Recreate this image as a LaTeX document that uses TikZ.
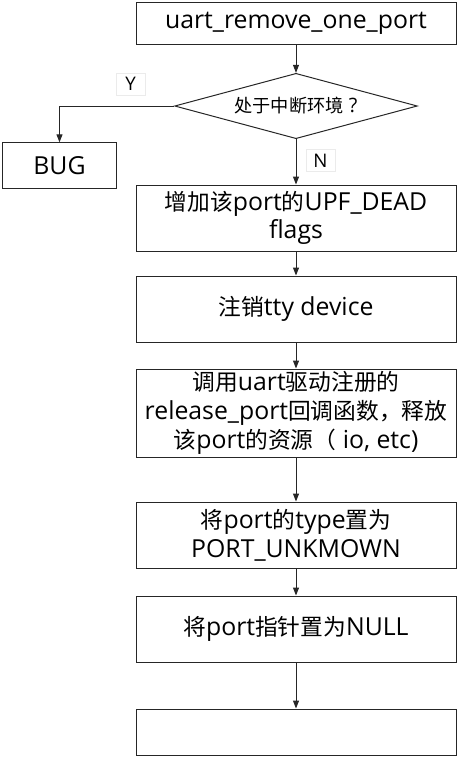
\documentclass[tikz,border=0pt]{standalone}
\usepackage{fontspec}
\setmainfont{Open Sans}[Scale=1.2]
\newfontfamily\cjk{Noto Sans CJK SC}[Scale=1.1]
\newcommand{\zh}[1]{{\cjk #1}}
\usetikzlibrary{shapes.geometric}
\usetikzlibrary{arrows.meta}

\begin{document}
\begin{tikzpicture}[x=0.75pt,y=-0.75pt,
  stepbox/.style={rectangle,draw=black!85,line width=0.75pt,minimum width=240pt,inner sep=0pt,align=center,font=\fontsize{15.5}{21.5}\selectfont},
  flow/.style={draw=black!85,line width=0.75pt,-{Triangle[length=6pt,width=4.5pt]}},
  tag/.style={draw=black!8,inner sep=0pt,minimum width=22pt,minimum height=16.5pt,font=\fontsize{11.7}{16}\selectfont}]
\useasboundingbox (0,0) rectangle (459,758);

\node[stepbox,minimum height=31.5pt] (start) at (296,23) {uart\_remove\_one\_port};
\node[diamond,aspect=3.74,draw=black!85,line width=0.75pt,inner sep=0pt,minimum width=182pt,minimum height=49pt,font=\fontsize{12.4}{16}\selectfont] (irq) at (296,106) {\zh{处于中断环境}\hspace{4pt}?};
\node[rectangle,draw=black!85,line width=0.75pt,minimum width=86pt,minimum height=34pt,font=\fontsize{15.5}{20}\selectfont] (bug) at (59.5,165.5) {BUG};
\node[stepbox,minimum height=49.5pt] (dead) at (296,218) {\zh{增加该}port\zh{的}UPF\_DEAD\\flags};
\node[stepbox,minimum height=49.5pt] (tty) at (296,309) {\zh{注销}tty device};
\node[stepbox,minimum height=66pt] (release) at (296,413) {\zh{调用}uart\zh{驱动注册的}\\release\_port\zh{回调函数，释放}\\\zh{该}port\zh{的资源（} io, etc)};
\node[stepbox,minimum height=49.5pt] (type) at (296,535) {\zh{将}port\zh{的}type\zh{置为}\\PORT\_UNKMOWN};
\node[stepbox,minimum height=49.5pt] (null) at (296,629) {\zh{将}port\zh{指针置为}NULL};
\node[stepbox,minimum height=34.5pt] (last) at (296,732) {};

\node[tag] (yes) at (130.5,84) {Y};
\node[tag] (no) at (320.5,160.5) {N};

\draw[flow] (start) -- (irq);
\draw[flow] (irq.west) -| (bug.north);
\draw[flow] (irq) -- (dead);
\draw[flow] (dead) -- (tty);
\draw[flow] (tty) -- (release);
\draw[flow] (release) -- (type);
\draw[flow] (type) -- (null);
\draw[flow] (null) -- (last);

\end{tikzpicture}
\end{document}
